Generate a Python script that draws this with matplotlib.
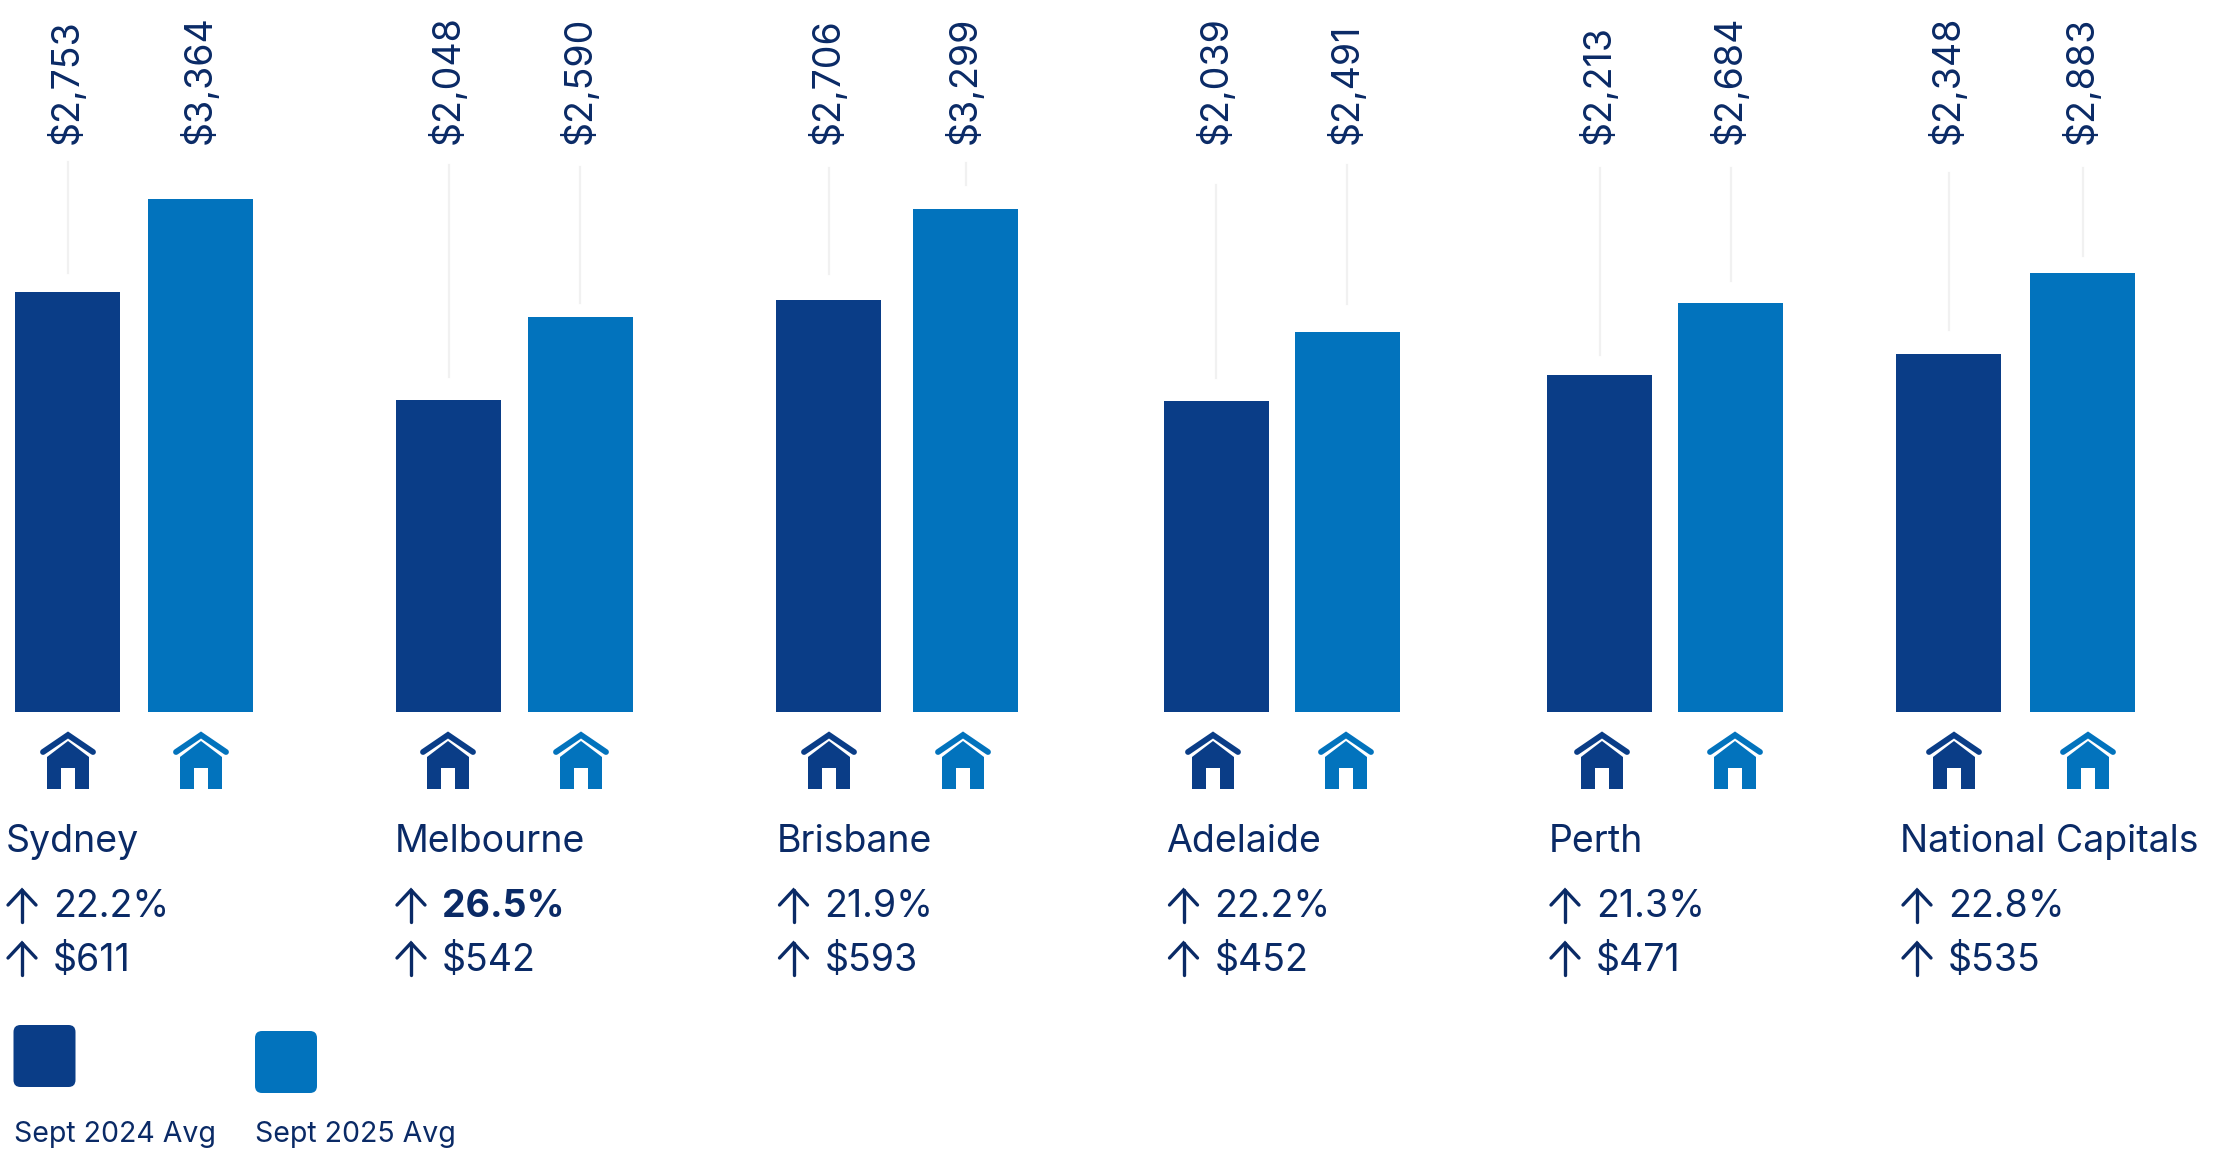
import matplotlib

matplotlib.use("Agg")

import matplotlib.pyplot as plt
from matplotlib.patches import FancyBboxPatch, Polygon, Rectangle

WIDTH, HEIGHT = 2217, 1168
BASELINE_Y = 712
PX_PER_DOLLAR = 0.1524

CITIES = ["Sydney", "Melbourne", "Brisbane", "Adelaide", "Perth", "National Capitals"]
AVG_2024 = [2753, 2048, 2706, 2039, 2213, 2348]
AVG_2025 = [3364, 2590, 3299, 2491, 2684, 2883]
PCT_CHANGE = [22.2, 26.5, 21.9, 22.2, 21.3, 22.8]
DOLLAR_CHANGE = [611, 542, 593, 452, 471, 535]

# layout, in image pixels
BAR_W = 105
LEFT_2024 = [15, 396, 776, 1163.5, 1547, 1896]
LEFT_2025 = [148, 527.5, 913, 1294.5, 1678, 2030]
ICON_2024 = [68, 448, 829, 1213, 1602, 1954]
ICON_2025 = [201, 581, 963, 1346, 1735, 2088]
CITY_X = [6, 395, 777, 1166, 1549, 1900]
ARROW_X = [22, 411, 793.5, 1183.5, 1565, 1917]
STEM_2024 = [(162, 273), (165, 377), (168, 274), (185, 378), (168, 355), (173, 330)]
STEM_2025 = [None, (167, 303), (163, 185), (165, 304), (168, 281), (168, 256)]

DARK = "#0a3d87"
LIGHT = "#0273bd"
TEXT = "#0a2a66"
STEM = "#f1f1f1"
FONT = "Inter"


def draw_house(ax, cx, color):
    ax.add_patch(Polygon(
        [(cx - 21, 789), (cx - 21, 757), (cx, 741), (cx + 21, 757), (cx + 21, 789)],
        closed=True, color=color, lw=0,
    ))
    ax.add_patch(Rectangle((cx - 7, 768), 14, 21, color="white", lw=0))
    ax.plot([cx - 25, cx, cx + 25], [752, 735, 752], color=color, lw=4.2,
            solid_capstyle="round", solid_joinstyle="miter")


def draw_arrow(ax, cx, top, bottom):
    ax.plot([cx, cx], [top, bottom], color=TEXT, lw=2.4, solid_capstyle="round")
    ax.plot([cx - 14, cx, cx + 14], [top + 15, top, top + 15], color=TEXT, lw=2.4,
            solid_capstyle="round", solid_joinstyle="miter")


def main():
    fig = plt.figure(figsize=(WIDTH / 100, HEIGHT / 100), dpi=100, facecolor="white")

    # bars: x in pixels, y in dollars, zero on the baseline
    ax_bars = fig.add_axes([0, 1 - BASELINE_Y / HEIGHT, 1, BASELINE_Y / HEIGHT])
    ax_bars.set_xlim(0, WIDTH)
    ax_bars.set_ylim(0, BASELINE_Y / PX_PER_DOLLAR)
    ax_bars.axis("off")
    ax_bars.bar(LEFT_2024, AVG_2024, width=BAR_W, align="edge", color=DARK)
    ax_bars.bar(LEFT_2025, AVG_2025, width=BAR_W, align="edge", color=LIGHT)

    # everything else, in pixels from the top left
    ax = fig.add_axes([0, 0, 1, 1])
    ax.set_xlim(0, WIDTH)
    ax.set_ylim(HEIGHT, 0)
    ax.axis("off")
    ax.patch.set_alpha(0)

    for i, city in enumerate(CITIES):
        for left, value, stem, icon_x, color in (
            (LEFT_2024[i], AVG_2024[i], STEM_2024[i], ICON_2024[i], DARK),
            (LEFT_2025[i], AVG_2025[i], STEM_2025[i], ICON_2025[i], LIGHT),
        ):
            cx = left + BAR_W / 2
            if stem:
                ax.plot([cx, cx], stem, color=STEM, lw=1.6)
            ax.text(cx - 1, 144, f"${value:,}", rotation=90, ha="center", va="bottom",
                    fontsize=27, family=FONT, color=TEXT)
            draw_house(ax, icon_x, color)

        ax.text(CITY_X[i], 852, city, fontsize=27, family=FONT, color=TEXT, va="baseline")

        draw_arrow(ax, ARROW_X[i], 890, 922)
        draw_arrow(ax, ARROW_X[i], 943, 975)
        bold = PCT_CHANGE[i] == max(PCT_CHANGE)
        ax.text(ARROW_X[i] + 31, 917, f"{PCT_CHANGE[i]}%", fontsize=27, family=FONT,
                weight="bold" if bold else "normal", color=TEXT, va="baseline")
        ax.text(ARROW_X[i] + 31, 971, f"${DOLLAR_CHANGE[i]}", fontsize=27, family=FONT,
                color=TEXT, va="baseline")

    # legend
    for x, y, color, label in ((13.5, 1025, DARK, "Sept 2024 Avg"),
                               (255, 1031, LIGHT, "Sept 2025 Avg")):
        ax.add_patch(FancyBboxPatch((x + 6, y + 6), 50, 50, boxstyle="round,pad=6,rounding_size=7",
                                    color=color, lw=0, mutation_aspect=1))
        ax.text(x, 1142, label, fontsize=20.5, family=FONT, color=TEXT, va="baseline")

    fig.savefig("out.png", dpi=100)


if __name__ == "__main__":
    main()
